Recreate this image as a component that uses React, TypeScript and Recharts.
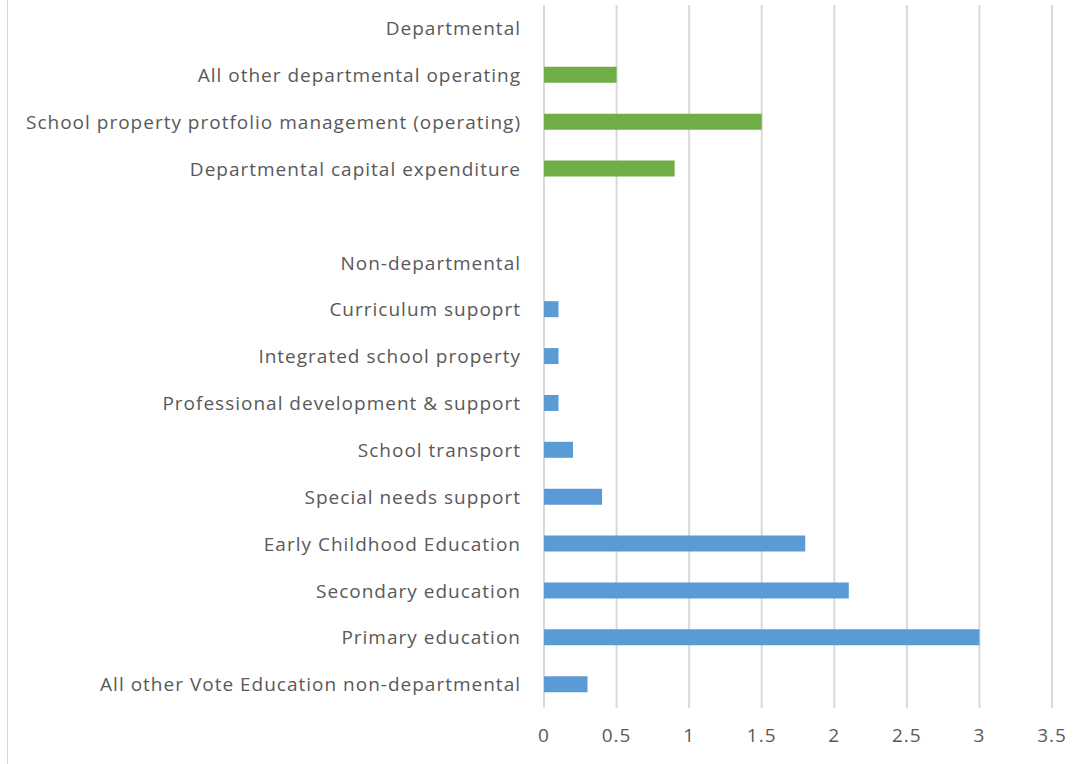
import React from "react";
import { BarChart, Bar, XAxis, YAxis, CartesianGrid, Cell } from "recharts";

// Spending categories, top to bottom; header rows and the spacer carry no bar.
const categories = [
  "Departmental",
  "All other departmental operating",
  "School property protfolio management (operating)",
  "Departmental capital expenditure",
  " ",
  "Non-departmental",
  "Curriculum supoprt",
  "Integrated school property",
  "Professional development & support",
  "School transport",
  "Special needs support",
  "Early Childhood Education",
  "Secondary education",
  "Primary education",
  "All other Vote Education non-departmental",
];

const values: (number | null)[] = [
  null, 0.5, 1.5, 0.9,
  null,
  null, 0.1, 0.1, 0.1, 0.2, 0.4, 1.8, 2.1, 3.0, 0.3,
];

const groups = [
  "dep", "dep", "dep", "dep",
  "none",
  "non", "non", "non", "non", "non", "non", "non", "non", "non", "non",
];

const xTicks = [0, 0.5, 1, 1.5, 2, 2.5, 3, 3.5];

const groupColors: Record<string, string> = {
  dep: "#70AD47",
  non: "#5B9BD5",
  none: "#5B9BD5",
};

const data = categories.map((name, i) => ({ name, value: values[i], group: groups[i] }));

const textStyle = {
  fill: "#595959",
  fontSize: 19,
  fontFamily: "'Open Sans', sans-serif",
  letterSpacing: 1,
};

export default function App() {
  return (
    <div style={{ position: "fixed", left: 0, top: 0, width: 1090, height: 764, background: "#fff" }}>
      <div
        style={{
          position: "absolute",
          left: 7,
          top: 0,
          width: 1,
          height: 764,
          background: "#d9d9d9",
        }}
      />
      <BarChart
        width={1090}
        height={764}
        data={data}
        layout="vertical"
        margin={{ top: 5, right: 38, bottom: 0, left: 0 }}
        barCategoryGap={0}
      >
        <CartesianGrid horizontal={false} stroke="#d9d9d9" strokeWidth={2} />
        <XAxis
          type="number"
          domain={[0, 3.5]}
          ticks={xTicks}
          axisLine={false}
          tickLine={false}
          tickSize={0}
          tickMargin={21}
          height={56}
          tick={textStyle}
          interval={0}
        />
        <YAxis
          type="category"
          dataKey="name"
          width={544}
          axisLine={false}
          tickLine={false}
          tickSize={0}
          tickMargin={23}
          tick={textStyle}
          interval={0}
        />
        <Bar dataKey="value" barSize={16} isAnimationActive={false}>
          {data.map((d, i) => (
            <Cell key={i} fill={groupColors[d.group]} />
          ))}
        </Bar>
      </BarChart>
    </div>
  );
}
